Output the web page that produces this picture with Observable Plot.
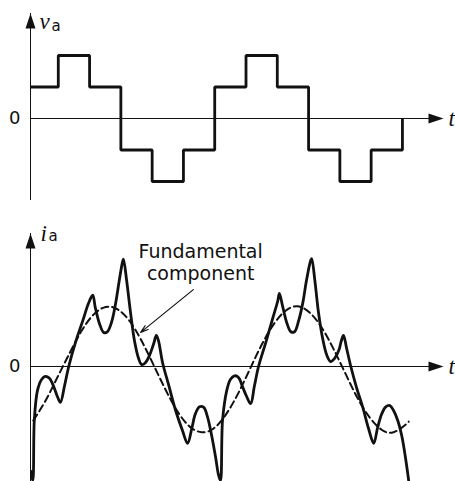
<!DOCTYPE html>
<html>
<head>
<meta charset="utf-8">
<script src="https://cdn.jsdelivr.net/npm/d3@7"></script>
<script src="https://cdn.jsdelivr.net/npm/@observablehq/plot@0.6"></script>
<style>
  body { margin: 0; background: #fff; }
  #chart svg { display: block; }
</style>
</head>
<body>
<div id="chart"></div>
<script>
// Six-step inverter: phase voltage steps (electrical degrees) and levels
const stepAngle = [0, 60, 120, 180, 240, 300, 360, 420, 480, 540, 600, 660, 720];
const vaLevel   = [1, 2, 1, -1, -2, -1, 1, 2, 1, -1, -2, -1, 0];

// Phase current (per unit of the fundamental peak)
const iaAngle = [7, 11, 14, 20, 28, 35, 43, 51, 58, 64, 72, 80, 93, 107, 118, 126, 131, 139, 147, 154,
  162, 170, 177, 183, 185, 191, 199, 206, 214, 220, 227, 235, 243, 248, 252, 260, 272, 285, 298, 308,
  316, 323, 331, 339, 346, 354, 362, 367, 371, 375, 383, 390, 398, 406, 413, 421, 429, 436, 444, 458,
  471, 481, 484, 490, 498, 506, 513, 521, 529, 536, 544, 546, 552, 559, 567, 575, 582, 590, 598, 603,
  607, 613, 621, 632, 644, 655, 665, 672, 680, 688, 696, 703, 711, 719, 726, 732];
const iaValue = [-1.69, -1.84, -0.87, -0.39, -0.21, -0.16, -0.19, -0.32, -0.48, -0.58, -0.31, 0, 0.39, 0.74, 1.02, 1.15, 0.95, 0.69, 0.55, 0.56,
  0.71, 1.02, 1.39, 1.68, 1.73, 1.39, 0.84, 0.42, 0.13, 0.03, 0.06, 0.18, 0.37, 0.50, 0.42, 0.06, -0.31, -0.71, -1.03, -1.24,
  -1.00, -0.76, -0.65, -0.66, -0.81, -1.11, -1.48, -1.74, -1.84, -0.87, -0.39, -0.21, -0.15, -0.18, -0.32, -0.48, -0.60, -0.32, 0, 0.39,
  0.77, 1.06, 1.18, 0.98, 0.71, 0.56, 0.56, 0.74, 1.03, 1.39, 1.71, 1.74, 1.39, 0.87, 0.45, 0.18, 0.08, 0.13, 0.26, 0.42,
  0.50, 0.29, 0, -0.34, -0.66, -1.00, -1.24, -1.00, -0.77, -0.65, -0.63, -0.71, -0.87, -1.13, -1.48, -1.84];

// Fundamental component of the current
const fundAngle = [12, 35, 58, 82, 105, 128, 151, 174, 197, 220, 243, 266, 289, 312, 335, 358, 381, 404,
  427, 450, 473, 496, 519, 542, 565, 588, 611, 634, 657, 680, 703, 726, 732];
const fundValue = [-0.87, -0.56, -0.18, 0.22, 0.58, 0.84, 0.96, 0.92, 0.73, 0.41, 0.02, -0.38, -0.73, -0.97, -1.06, -1.00, -0.78, -0.45,
  -0.05, 0.35, 0.68, 0.90, 0.97, 0.87, 0.63, 0.28, -0.12, -0.51, -0.82, -1.02, -1.06, -0.94, -0.89];

const zeroTicks = [0];
const timeLabel = ["t"];
const noteText = ["Fundamental\ncomponent"];
// annotation anchor (label) and arrow from/to, in chart units
const noteAt = {angle: 333, value: 1.40};
const noteArrow = {angle1: 319, value1: 1.24, angle2: 218, value2: 0.55};

const voltage = stepAngle.map((a, k) => ({angle: a, v: vaLevel[k]}));
const current = iaAngle.map((a, k) => ({angle: a, i: iaValue[k]}));
const fundamental = fundAngle.map((a, k) => ({angle: a, i: fundValue[k]}));

const INK = "#111";
const xDomain = [6.7, 793];
const sans = "DejaVu Sans, Liberation Sans, sans-serif";
const serif = "Liberation Serif, DejaVu Serif, serif";

// filled arrowhead, tip at the origin, pointing up
const arrowHead = {
  draw(ctx) { ctx.moveTo(0, 0); ctx.lineTo(-5, 15); ctx.lineTo(5, 15); ctx.closePath(); }
};

function axisMarks(symbol, sub, subDx, subDy, symDx, symDy) {
  return [
    Plot.ruleY(zeroTicks, {stroke: INK, strokeWidth: 1}),
    Plot.ruleX([xDomain[0]], {stroke: INK, strokeWidth: 1}),
    Plot.dot([0], {frameAnchor: "top-left", symbol: arrowHead, r: 5, fill: INK, stroke: "none"}),
    Plot.dot(zeroTicks, {y: d => d, frameAnchor: "right", dx: 3, rotate: 90, symbol: arrowHead, r: 5, fill: INK, stroke: "none"}),
    Plot.axisY({ticks: zeroTicks, tickFormat: d => String(d), tickSize: 0, tickPadding: 10, label: null,
      fontSize: 18, fontFamily: sans, fill: INK}),
    Plot.text(timeLabel, {y: () => 0, text: d => d, frameAnchor: "right", dx: 8, textAnchor: "start",
      fontFamily: serif, fontStyle: "italic", fontSize: 23, fill: INK}),
    Plot.text([symbol], {text: d => d, frameAnchor: "top-left", dx: symDx, dy: symDy, textAnchor: "start", lineAnchor: "bottom",
      fontFamily: serif, fontStyle: "italic", fontSize: 23, fill: INK}),
    Plot.text([sub], {text: d => d, frameAnchor: "top-left", dx: subDx, dy: subDy, textAnchor: "start", lineAnchor: "bottom",
      fontFamily: sans, fontSize: 15, fill: INK})
  ];
}

const voltagePlot = Plot.plot({
  width: 455, height: 220,
  marginTop: 13, marginBottom: 20, marginLeft: 30, marginRight: 15,
  style: {background: "#fff", color: INK, fontFamily: sans},
  x: {domain: xDomain, axis: null},
  y: {domain: [-2.603, 3.333]},
  marks: [
    ...axisMarks("v", "a", 21, 17, 9, 15),
    Plot.line(voltage, {x: "angle", y: "v", curve: "step-after", stroke: INK, strokeWidth: 2.8,
      strokeLinejoin: "miter", strokeLinecap: "butt", clip: true})
  ]
});

const currentPlot = Plot.plot({
  width: 455, height: 261,
  marginTop: 13, marginBottom: 0, marginLeft: 30, marginRight: 15,
  style: {background: "#fff", color: INK, fontFamily: sans},
  x: {domain: xDomain, axis: null},
  y: {domain: [-1.855, 2.145]},
  marks: [
    ...axisMarks("i", "a", 18, 7, 10, 7),
    Plot.line(fundamental, {x: "angle", y: "i", curve: "natural", stroke: INK, strokeWidth: 2,
      strokeDasharray: "7,4", clip: true}),
    Plot.line(current, {x: "angle", y: "i", curve: "catmull-rom", stroke: INK, strokeWidth: 2.8,
      strokeLinejoin: "round", clip: true}),
    Plot.arrow([noteArrow], {x1: "angle1", y1: "value1", x2: "angle2", y2: "value2",
      stroke: INK, strokeWidth: 1.2, headLength: 10, headAngle: 35}),
    Plot.text(noteText, {x: () => noteAt.angle, y: () => noteAt.value, text: d => d, lineAnchor: "bottom",
      lineHeight: 1.12, fontSize: 19, fontFamily: sans, fill: INK})
  ]
});

const root = document.getElementById("chart");
root.appendChild(voltagePlot);
root.appendChild(currentPlot);
</script>
</body>
</html>
